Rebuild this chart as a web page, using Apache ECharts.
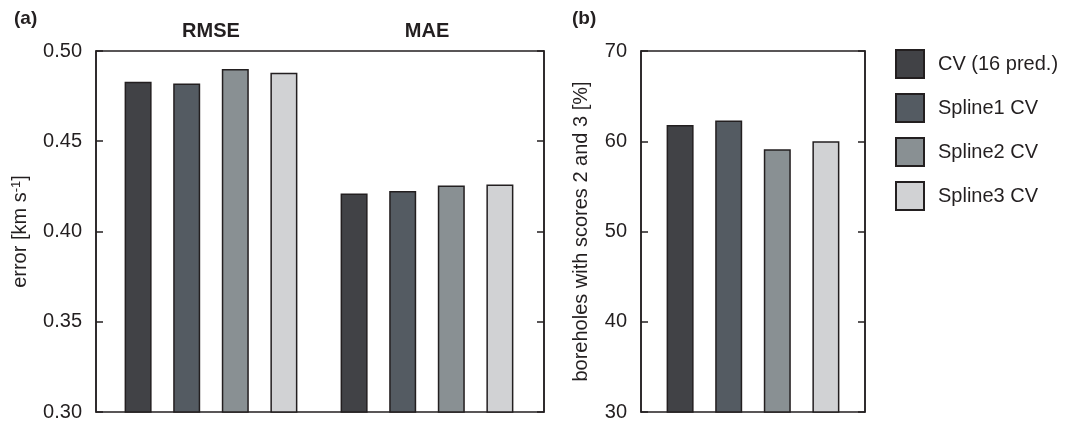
<!DOCTYPE html>
<html>
<head>
<meta charset="utf-8">
<script src="https://cdn.jsdelivr.net/npm/echarts@6/dist/echarts.min.js"></script>
<style>
  html, body { margin: 0; padding: 0; background: #fff; }
  #chart { width: 1066px; height: 422px; }
</style>
</head>
<body>
<div id="chart"></div>
<script>
// panel (a): error metrics
var metrics = ['RMSE', 'MAE'];
var cv16 = [0.483, 0.421];
var spline1 = [0.482, 0.4225];
var spline2 = [0.490, 0.4255];
var spline3 = [0.488, 0.426];

// panel (b): boreholes with scores 2 and 3 [%]
var scoreCats = ['scores'];
var boreholePct = [61.8, 62.3, 59.1, 60.0];

var seriesNames = ['CV (16 pred.)', 'Spline1 CV', 'Spline2 CV', 'Spline3 CV'];
var seriesColors = ['#414246', '#545b62', '#899093', '#d1d2d4'];
var errorValues = [cv16, spline1, spline2, spline3];

var ink = '#231f20';
var font = 'Arial, "Liberation Sans", Helvetica, sans-serif';

var myChart = echarts.init(document.getElementById('chart'));

function yAxisPair(gridIndex, min, max, interval, fmt, name, nameGap) {
    return [
        {
            type: 'value', gridIndex: gridIndex, position: 'left',
            min: min, max: max, interval: interval,
            name: name, nameLocation: 'middle', nameGap: nameGap,
            nameTextStyle: {
                color: ink, fontFamily: font, fontSize: 20,
                rich: {
                    n: { color: ink, fontFamily: font, fontSize: 20, verticalAlign: 'bottom' },
                    s: { color: ink, fontFamily: font, fontSize: 13, verticalAlign: 'top' }
                }
            },
            axisLine: { show: true, lineStyle: { color: ink, width: 1.5 } },
            axisTick: { show: true, inside: true, length: 7, lineStyle: { color: ink, width: 1.5 } },
            axisLabel: { color: ink, fontFamily: font, fontSize: 20, margin: 14, formatter: fmt },
            splitLine: { show: false }
        },
        {
            type: 'value', gridIndex: gridIndex, position: 'right',
            min: min, max: max, interval: interval,
            axisLine: { show: true, lineStyle: { color: ink, width: 1.5 } },
            axisTick: { show: true, inside: true, length: 7, lineStyle: { color: ink, width: 1.5 } },
            axisLabel: { show: false },
            splitLine: { show: false }
        }
    ];
}

// grid 0 = frame + axes of (a), grid 1 = frame + axes of (b), grid 2 = bar area of (a)
var yAxes = yAxisPair(0, 0.30, 0.50, 0.05, function (v) { return v.toFixed(2); },
                      '{n|error [km s}{s|-1}{n|]}', 66)
    .concat(yAxisPair(1, 30, 70, 10, '{value}', 'boreholes with scores 2 and 3 [%]', 50))
    .concat([{
        type: 'value', gridIndex: 2, min: 0.30, max: 0.50, interval: 0.05,
        axisLine: { show: false }, axisTick: { show: false }, axisLabel: { show: false },
        splitLine: { show: false }
    }]);

var series = [];
seriesNames.forEach(function (nm, i) {
    series.push({
        name: nm, type: 'bar', xAxisIndex: 2, yAxisIndex: 4,
        barWidth: 27, barGap: '80%',
        itemStyle: { color: seriesColors[i], borderColor: ink, borderWidth: 1.5 },
        data: errorValues[i]
    });
});
seriesNames.forEach(function (nm, i) {
    series.push({
        name: nm, type: 'bar', xAxisIndex: 1, yAxisIndex: 2,
        barWidth: 27, barGap: '80%',
        itemStyle: { color: seriesColors[i], borderColor: ink, borderWidth: 1.5 },
        data: [boreholePct[i]]
    });
});

myChart.setOption({
    animation: false,
    backgroundColor: '#fff',
    title: [
        { text: '(a)', left: 9, top: 4, textStyle: { color: ink, fontFamily: font, fontSize: 19, fontWeight: 'bold' } },
        { text: '(b)', left: 567, top: 4, textStyle: { color: ink, fontFamily: font, fontSize: 19, fontWeight: 'bold' } }
    ],
    legend: {
        data: seriesNames,
        orient: 'vertical',
        left: 890, top: 44,
        icon: 'rect',
        itemWidth: 28, itemHeight: 28, itemGap: 14,
        textStyle: { color: ink, fontFamily: font, fontSize: 20, padding: [0, 0, 0, 9] }
    },
    grid: [
        { left: 96, right: 522, top: 51, bottom: 10, show: true, borderColor: ink, borderWidth: 1.5, backgroundColor: 'transparent' },
        { left: 641, right: 201, top: 51, bottom: 10, show: true, borderColor: ink, borderWidth: 1.5, backgroundColor: 'transparent' },
        { left: 103, right: 531, top: 51, bottom: 10, show: false }
    ],
    xAxis: [
        {
            type: 'category', gridIndex: 0, data: metrics,
            axisLine: { show: false }, axisTick: { show: false }, axisLabel: { show: false }
        },
        {
            type: 'category', gridIndex: 1, data: scoreCats,
            axisLine: { show: false }, axisTick: { show: false }, axisLabel: { show: false }
        },
        {
            type: 'category', gridIndex: 2, position: 'top', data: metrics,
            axisLine: { show: false }, axisTick: { show: false },
            axisLabel: { color: ink, fontFamily: font, fontSize: 20, fontWeight: 'bold', margin: 10 }
        }
    ],
    yAxis: yAxes,
    series: series
});
</script>
</body>
</html>
